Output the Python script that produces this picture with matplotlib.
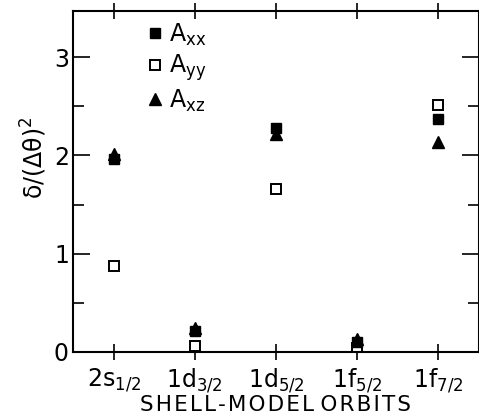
import matplotlib
matplotlib.use("Agg")
import matplotlib.pyplot as plt
from matplotlib.ticker import MultipleLocator

categories = ["2s$_{1/2}$", "1d$_{3/2}$", "1d$_{5/2}$", "1f$_{5/2}$", "1f$_{7/2}$"]
A_xx = [1.96, 0.21, 2.28, 0.10, 2.37]
A_yy = [0.87, 0.06, 1.66, 0.04, 2.51]
A_xz = [2.01, 0.24, 2.22, 0.13, 2.14]
series_labels = ["A$_{\\rm xx}$", "A$_{\\rm yy}$", "A$_{\\rm xz}$"]

plt.rcParams['font.family'] = ['DejaVu Sans']
plt.rcParams['mathtext.fontset'] = 'dejavusans'

fig = plt.figure(figsize=(4.79, 4.19), dpi=100)
ax = fig.add_axes([0.1524, 0.160, 0.8476, 0.8138])

x = list(range(len(categories)))
ax.plot(x, A_xx, linestyle='none', marker='s', ms=7, color='black', mfc='black', label=series_labels[0], zorder=3)
ax.plot(x, A_yy, linestyle='none', marker='s', ms=7, color='black', mfc='white', mew=1.4, label=series_labels[1], zorder=2)
ax.plot(x, A_xz, linestyle='none', marker='^', ms=8, color='black', mfc='black', label=series_labels[2], zorder=3)

ax.set_xlim(-0.5, 4.5)
ax.set_ylim(0, 3.47)
ax.set_xticks(x)
ax.set_xticklabels(categories, fontsize=17)
ax.set_yticks([0, 1, 2, 3])
ax.set_yticklabels(["0", "1", "2", "3"], fontsize=17)
ax.yaxis.set_minor_locator(MultipleLocator(0.5))

ax.tick_params(axis='y', which='major', direction='in', length=12, width=1.2, right=True, pad=3)
ax.tick_params(axis='y', which='minor', direction='in', length=8, width=1.2, right=True)
ax.tick_params(axis='x', which='major', direction='inout', length=12, width=1.2, top=True, pad=5)
for s in ax.spines.values():
    s.set_linewidth(1.5)

ax.set_ylabel("δ/(Δθ)$^2$", fontsize=17)
ax.yaxis.set_label_coords(-0.06, 0.57)
ax.set_xlabel("S\u200aH\u200aE\u200aL\u200aL\u200a-\u200aM\u200aO\u200aD\u200aE\u200aL\u2009\u200aO\u200aR\u200aB\u200aI\u200aT\u200aS",
              fontsize=15.5, labelpad=0)

ax.legend(loc='upper left', bbox_to_anchor=(0.14, 1.025), frameon=False, fontsize=17,
          handlelength=0.5, handletextpad=0.35, labelspacing=0.2, borderpad=0.3)

fig.savefig("out.png", dpi=100)
